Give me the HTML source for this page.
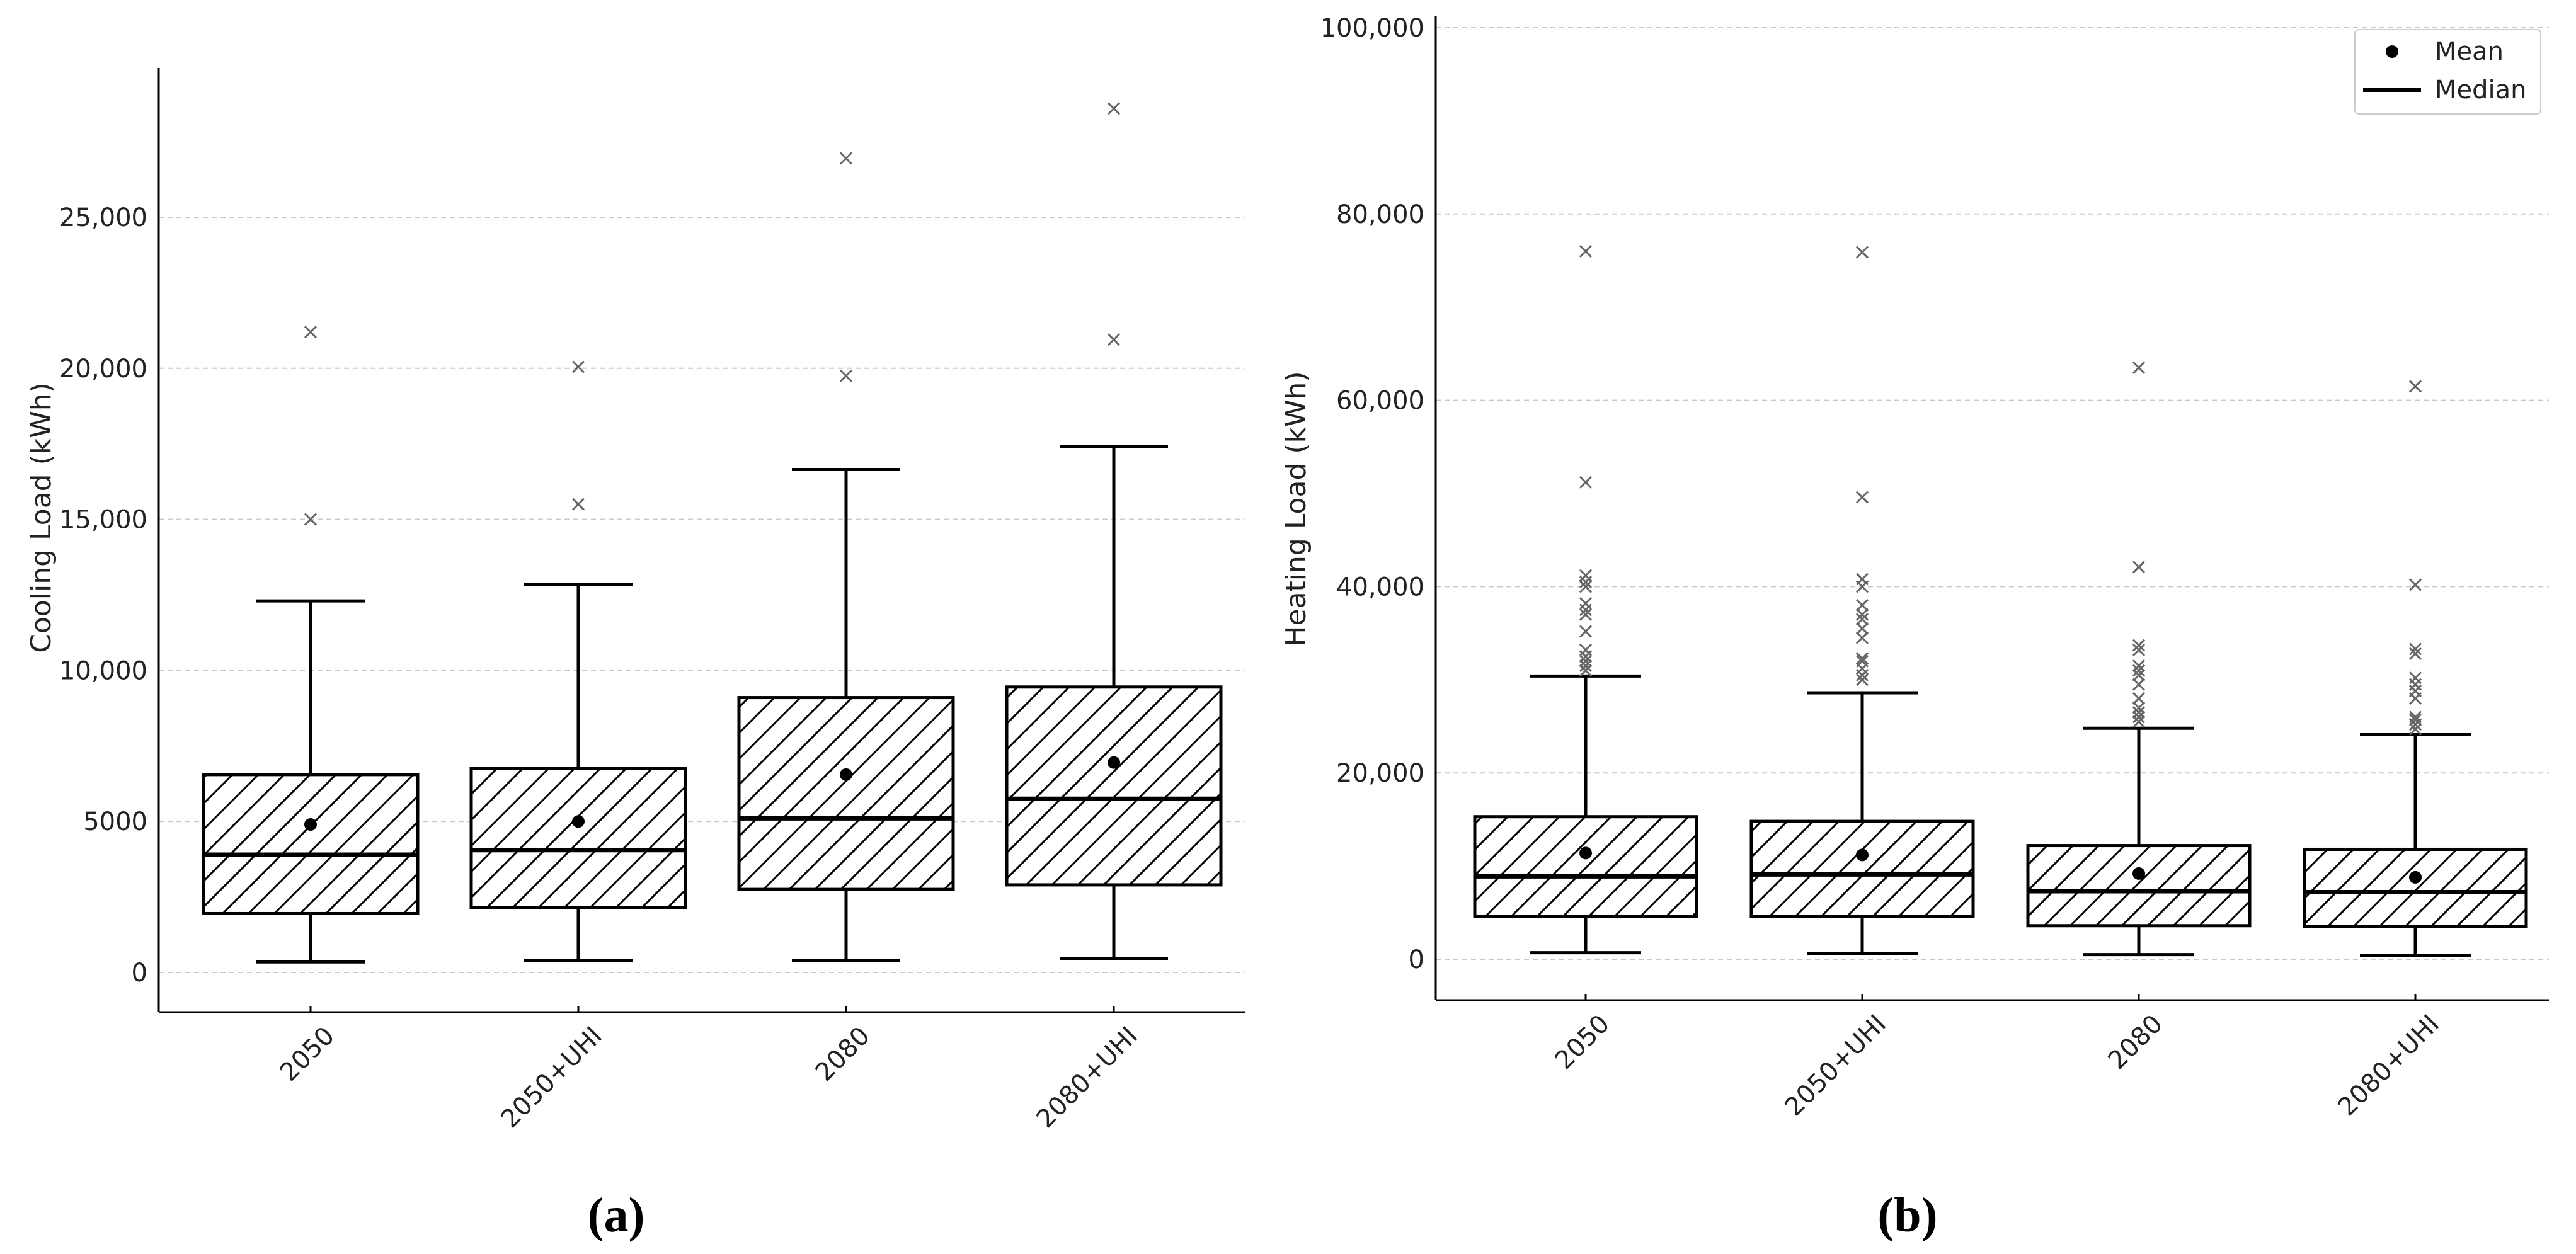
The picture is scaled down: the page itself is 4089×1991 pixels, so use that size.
<!DOCTYPE html>
<html><head><meta charset="utf-8">
<style>
html,body{margin:0;padding:0;background:#fff;}
svg{display:block;font-family:"DejaVu Sans","Liberation Sans",sans-serif;}
</style></head>
<body>
<svg id="chart" width="4089" height="1991" viewBox="0 0 4089 1991" xmlns="http://www.w3.org/2000/svg">
<defs>
<pattern id="hatch" patternUnits="userSpaceOnUse" width="41" height="41">
<rect width="41" height="41" fill="#fff"/>
<path d="M-10,51 L51,-10 M-10,10 L10,-10 M31,51 L51,31" stroke="#000" stroke-width="3"/>
</pattern>
</defs>
<g id="layer"></g>
</svg>
<script>
const categories = ["2050","2050+UHI","2080","2080+UHI"];
// Cooling (a)
const coolLow = [350,400,400,450];
const coolQ1 = [1950,2150,2750,2900];
const coolMed = [3900,4050,5100,5750];
const coolQ3 = [6550,6750,9100,9450];
const coolHigh = [12300,12850,16650,17400];
const coolMean = [4900,5000,6550,6950];
const coolFliers = [[15000,21200],[15500,20050],[19750,26950],[20950,28600]];
const coolTicks = [0,5000,10000,15000,20000,25000];
const coolTickLabels = ["0","5000","10,000","15,000","20,000","25,000"];
// Heating (b)
const heatLow = [700,600,500,400];
const heatQ1 = [4600,4600,3600,3500];
const heatMed = [8900,9100,7300,7200];
const heatQ3 = [15300,14800,12200,11800];
const heatHigh = [30400,28600,24800,24100];
const heatMean = [11400,11200,9200,8800];
const heatFliers = [
 [31000,31500,32000,32500,33200,35200,37000,37500,38200,40000,40500,41200,51200,76000],
 [30000,30500,31200,32000,32300,34500,35500,36500,37000,38000,40000,40800,49600,75900],
 [25500,26000,26500,27000,28000,29500,30500,31000,31500,33200,33700,42100,63500],
 [24700,25200,25700,26000,28000,28800,29500,30200,32800,33300,40200,61500]];
const heatTicks = [0,20000,40000,60000,80000,100000];
const heatTickLabels = ["0","20,000","40,000","60,000","80,000","100,000"];

const NS="http://www.w3.org/2000/svg";
const layer=document.getElementById('layer');
function mk(tag,attrs,parent,text){const e=document.createElementNS(NS,tag);for(const k in attrs)e.setAttribute(k,attrs[k]);if(text!==undefined)e.textContent=text;(parent||layer).appendChild(e);return e;}

function panel(cfg){
  const g=mk('g',{});
  
  
  const y=v=>cfg.y0-(v/cfg.yUnit)*cfg.yPx;
  const x=i=>cfg.x0+i*cfg.dx;
  cfg.ticks.forEach((t,i)=>{
    const gl=mk('line',{x1:cfg.axL,x2:cfg.axR,y1:y(t),y2:y(t),stroke:'#c8c8c8','stroke-width':2,'stroke-dasharray':'8,6'},g);
    
    
    const tl=mk('text',{x:cfg.axL-18,y:y(t)+14,'text-anchor':'end','font-size':40,fill:'#222'},g,cfg.tickLabels[i]);
    
    
  });
  const ya=mk('line',{x1:cfg.axL,x2:cfg.axL,y1:cfg.axT,y2:cfg.axB,stroke:'#000','stroke-width':3},g);
  
  
  const xa=mk('line',{x1:cfg.axL,x2:cfg.axR,y1:cfg.axB,y2:cfg.axB,stroke:'#000','stroke-width':3},g);
  
  
  const yt=mk('text',{x:0,y:0,'text-anchor':'middle','font-size':44,fill:'#222',transform:`translate(${cfg.titleX},${cfg.titleY}) rotate(-90)`},g,cfg.title);
  
  
  categories.forEach((c,i)=>{
    const cx=x(i);
    mk('line',{x1:cx,x2:cx,y1:cfg.axB,y2:cfg.axB-10,stroke:'#000','stroke-width':3},g);
    const lab=mk('text',{x:0,y:0,'text-anchor':'end','font-size':40,fill:'#222',transform:`translate(${cx+40},${cfg.axB+40}) rotate(-45)`},g,c);
    
    
    const bg=mk('g',{},g);
    
    
    const s={stroke:'#000','stroke-width':5};
    mk('line',Object.assign({x1:cx,x2:cx,y1:y(cfg.low[i]),y2:y(cfg.q1[i])},s),bg);
    mk('line',Object.assign({x1:cx,x2:cx,y1:y(cfg.q3[i]),y2:y(cfg.high[i])},s),bg);
    mk('line',Object.assign({x1:cx-cfg.cap,x2:cx+cfg.cap,y1:y(cfg.low[i]),y2:y(cfg.low[i])},s),bg);
    mk('line',Object.assign({x1:cx-cfg.cap,x2:cx+cfg.cap,y1:y(cfg.high[i]),y2:y(cfg.high[i])},s),bg);
    mk('rect',{x:cx-cfg.hw,y:y(cfg.q3[i]),width:2*cfg.hw,height:y(cfg.q1[i])-y(cfg.q3[i]),fill:'url(#hatch)',stroke:'#000','stroke-width':5},bg);
    mk('line',{x1:cx-cfg.hw,x2:cx+cfg.hw,y1:y(cfg.med[i]),y2:y(cfg.med[i]),stroke:'#000','stroke-width':7},bg);
    const m=mk('circle',{cx:cx,cy:y(cfg.mean[i]),r:10,fill:'#000'},bg);
    
    
    cfg.fliers[i].forEach(f=>{
      const fy=y(f),d=9;
      const p=mk('path',{d:`M${cx-d},${fy-d}L${cx+d},${fy+d}M${cx-d},${fy+d}L${cx+d},${fy-d}`,stroke:'#666','stroke-width':3,fill:'none'},bg);
      
      
    });
  });
  const cap=mk('text',{x:cfg.capX,y:1955,'text-anchor':'middle','font-size':78,'font-weight':'bold','font-family':'"Liberation Serif",serif',fill:'#000'},g,cfg.caption);
  
  
}

panel({name:'cooling-panel',x0:493,dx:425,y0:1544,yUnit:5000,yPx:239.8,axL:252,axR:1977,axT:108,axB:1607,
  hw:170,cap:86,ticks:coolTicks,tickLabels:coolTickLabels,low:coolLow,q1:coolQ1,med:coolMed,q3:coolQ3,high:coolHigh,mean:coolMean,fliers:coolFliers,
  title:'Cooling Load (kWh)',titleX:80,titleY:822,caption:'(a)',capX:978});
panel({name:'heating-panel',x0:2517,dx:439,y0:1523,yUnit:20000,yPx:295.8,axL:2279,axR:4046,axT:25,axB:1588,
  hw:176,cap:88,ticks:heatTicks,tickLabels:heatTickLabels,low:heatLow,q1:heatQ1,med:heatMed,q3:heatQ3,high:heatHigh,mean:heatMean,fliers:heatFliers,
  title:'Heating Load (kWh)',titleX:2072,titleY:808,caption:'(b)',capX:3028});

const lg=mk('g',{});


mk('rect',{x:3738,y:47,width:295,height:134,rx:6,fill:'#fff',stroke:'#ccc','stroke-width':2},lg);
const le1=mk('g',{},lg);


mk('circle',{cx:3797,cy:82,r:10,fill:'#000'},le1);
mk('text',{x:3865,y:95,'font-size':40,fill:'#222'},le1,'Mean');
const le2=mk('g',{},lg);


mk('line',{x1:3751,x2:3843,y1:143,y2:143,stroke:'#000','stroke-width':6},le2);
mk('text',{x:3865,y:156,'font-size':40,fill:'#222'},le2,'Median');
</script>
</body></html>
